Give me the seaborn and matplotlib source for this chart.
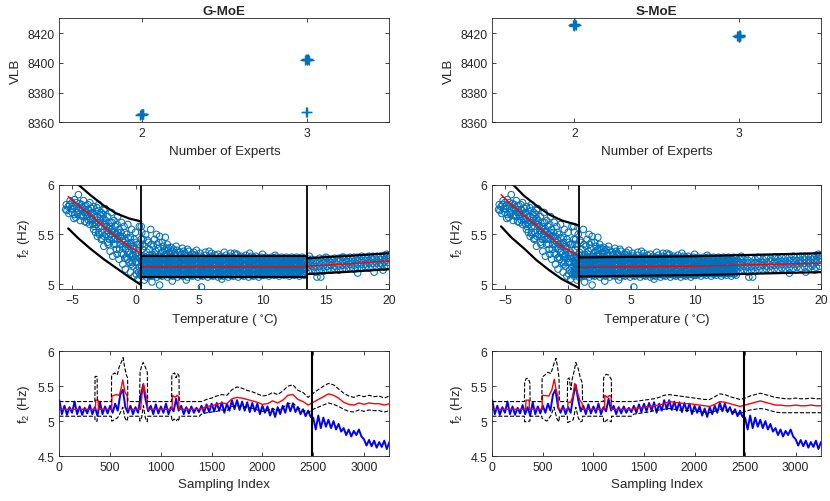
import numpy as np
import pandas as pd
import seaborn as sns
import matplotlib
matplotlib.use('Agg')
import matplotlib.pyplot as plt
from matplotlib.ticker import FuncFormatter

# ---------------- top row: VLB vs number of experts ----------------
g_experts = [1.99, 1.995, 2.0, 2.005, 2.01, 2.0, 2.0, 2.99, 2.995, 3.0, 3.005, 3.01, 3.0, 3.0, 2.997, 3.003]
g_vlb = [8365.2, 8365.6, 8365.4, 8365.8, 8365.3, 8365.0, 8365.9,
         8402.0, 8402.4, 8401.8, 8402.6, 8402.2, 8402.9, 8401.6, 8367.0, 8367.1]
s_experts = [1.99, 1.995, 2.0, 2.005, 2.01, 2.0, 2.0, 2.99, 2.995, 3.0, 3.005, 3.01, 3.0, 3.0, 3.01]
s_vlb = [8425.4, 8425.8, 8425.2, 8426.0, 8425.6, 8426.3, 8424.9,
         8418.0, 8418.4, 8417.6, 8418.8, 8418.2, 8417.3, 8418.6, 8418.1]

# ---------------- middle row: f2 vs temperature (same data both panels) ----------------
cold_t = [-5.50, -5.40, -5.30, -5.20, -5.10, -5.00, -5.00, -4.90, -4.80, -4.80,
          -4.70, -4.60, -4.50, -4.50, -4.40, -4.30, -4.20, -4.10, -4.00, -4.00,
          -3.90, -3.80, -3.70, -3.60, -3.60, -3.50, -3.40, -3.30, -3.30, -3.20,
          -3.10, -3.00, -3.00, -2.90, -2.90, -2.80, -2.70, -2.70, -2.60, -2.50,
          -2.50, -2.40, -2.40, -2.30, -2.20, -2.20, -2.10, -2.00, -2.00, -1.90,
          -1.90, -1.80, -1.80, -1.70, -1.70, -1.60, -1.50, -1.50, -1.40, -1.40,
          -1.30, -1.30, -1.20, -1.10, -1.10, -1.00, -1.00, -0.90, -0.90, -0.80,
          -0.80, -0.70, -0.70, -0.60, -0.60, -0.50, -0.50, -0.40, -0.40, -0.30,
          -0.30, -0.20, -0.20, -0.10, -0.10, 0.00, 0.00, 0.10, 0.10, 0.20,
          0.20, 0.30, 0.30, 0.30, -4.60, -4.30, -3.90, -3.70, -3.40, -3.10,
          -2.80, -2.60, -2.30, -2.10, -1.90, -1.60, -1.40, -1.20, -1.00, -0.80,
          -0.60, -0.40, -0.20, 0.00, 0.20, 0.35, 0.35, -2.90, -3.60, -2.50,
          -5.45, -5.25, -5.15, -4.95, -4.85, -4.65, -4.55, -4.35, -4.25, -4.15,
          -3.95, -3.85, -3.75, -3.55, -3.45, -3.35, -3.25, -3.15, -3.05, -2.95,
          -2.85, -2.75, -2.65, -2.55, -2.45, -2.35, -2.25, -2.15, -2.05, -1.95,
          -1.85, -1.75, -1.65, -1.55, -1.45, -1.35, -1.25, -1.15, -1.05, -0.95,
          -0.85, -0.75, -0.65, -0.55, -0.45, -0.35, -0.25, -0.15, -0.05, 0.05,
          0.15, 0.25, 0.05, -0.35, -0.85, -1.45, -2.05, -2.65, -3.25, -3.85]
cold_f = [5.75, 5.74, 5.78, 5.80, 5.76, 5.82, 5.72, 5.79, 5.85, 5.70,
          5.67, 5.78, 5.90, 5.74, 5.81, 5.69, 5.77, 5.84, 5.72, 5.63,
          5.79, 5.68, 5.75, 5.60, 5.82, 5.71, 5.66, 5.78, 5.55, 5.62,
          5.73, 5.68, 5.48, 5.80, 5.58, 5.64, 5.72, 5.45, 5.52, 5.66,
          5.38, 5.60, 5.76, 5.50, 5.42, 5.68, 5.56, 5.62, 5.33, 5.47,
          5.72, 5.53, 5.28, 5.40, 5.64, 5.58, 5.35, 5.50, 5.45, 5.68,
          5.25, 5.55, 5.40, 5.62, 5.31, 5.48, 5.20, 5.42, 5.58, 5.35,
          5.15, 5.50, 5.27, 5.60, 5.40, 5.22, 5.33, 5.47, 5.12, 5.55,
          5.28, 5.38, 5.18, 5.08, 5.45, 5.30, 5.52, 5.22, 5.14, 5.40,
          5.05, 5.26, 5.58, 5.17, 5.72, 5.76, 5.70, 5.64, 5.72, 5.60,
          5.70, 5.62, 5.58, 5.48, 5.55, 5.46, 5.52, 5.48, 5.38, 5.44,
          5.32, 5.38, 5.30, 5.22, 5.32, 5.40, 5.10, 5.52, 5.68, 5.74,
          5.80, 5.71, 5.84, 5.76, 5.66, 5.82, 5.70, 5.64, 5.80, 5.68,
          5.75, 5.62, 5.80, 5.65, 5.76, 5.60, 5.70, 5.52, 5.77, 5.62,
          5.50, 5.66, 5.58, 5.70, 5.48, 5.64, 5.54, 5.40, 5.58, 5.50,
          5.62, 5.45, 5.52, 5.40, 5.60, 5.48, 5.35, 5.52, 5.44, 5.30,
          5.52, 5.40, 5.25, 5.46, 5.30, 5.42, 5.22, 5.35, 5.26, 5.42,
          5.28, 5.12, 5.10, 5.20, 5.26, 5.30, 5.45, 5.46, 5.58, 5.72]

stray_t = [0.50, 0.60, 0.70, 0.80, 0.90, 1.00, 1.10, 1.20, 1.30, 1.40,
           1.50, 1.60, 1.70, 1.80, 1.90, 2.00, 2.10, 2.20, 2.30, 2.40,
           2.50, 2.60, 2.70, 2.80, 2.90, 3.00, 3.10, 3.30, 3.50, 3.70,
           3.90, 4.20, 4.50, 4.80, 5.10, 5.50, 6.00, 6.50, 7.00, 7.50,
           8.00, 9.00, 10.00, 1.90, 5.20, 1.30, 2.90, 0.70, 4.00, 6.80,
           14.30, 14.60, 17.50, 19.80, 13.70, 15.00, 16.40, 18.80, 19.50, 11.00,
           0.55, 0.95, 1.25, 1.55, 1.85, 2.15, 2.45, 2.75, 3.20, 3.60,
           4.10, 4.60, 2.35, 1.65, 0.45, 0.45, 0.55, 3.80, 5.80, 7.80]
stray_f = [5.52, 5.45, 5.38, 5.50, 5.32, 5.42, 5.35, 5.55, 5.30, 5.38,
           5.45, 5.33, 5.40, 5.36, 5.48, 5.31, 5.42, 5.38, 5.34, 5.30,
           5.40, 5.36, 5.32, 5.37, 5.33, 5.35, 5.31, 5.34, 5.32, 5.36,
           5.31, 5.33, 5.30, 5.34, 5.31, 5.32, 5.31, 5.30, 5.32, 5.31,
           5.30, 5.31, 5.30, 4.99, 4.97, 5.02, 5.03, 5.04, 5.04, 5.05,
           5.07, 5.07, 5.11, 5.30, 5.28, 5.27, 5.27, 5.12, 5.14, 5.29,
           5.35, 5.44, 5.40, 5.30, 5.42, 5.33, 5.36, 5.30, 5.38, 5.30,
           5.35, 5.32, 5.47, 5.50, 5.45, 5.58, 5.40, 5.33, 5.33, 5.31]

band_t = [0.48, 0.66, 0.87, 1.08, 1.27, 1.49, 1.68, 1.91, 2.10, 2.29,
          2.52, 2.71, 2.93, 3.12, 3.30, 3.53, 3.72, 3.89, 4.11, 4.32,
          4.50, 4.73, 4.91, 5.12, 5.29, 5.52, 5.70, 5.93, 6.11, 6.28,
          6.51, 6.72, 6.90, 7.13, 7.31, 7.49, 7.70, 7.92, 8.09, 8.31,
          8.52, 8.69, 8.91, 9.12, 9.30, 9.48, 9.71, 9.90, 10.12, 10.29,
          10.51, 10.73, 10.92, 11.10, 11.32, 11.50, 11.71, 11.89, 12.12, 12.30,
          12.52, 12.69, 12.91, 13.10, 13.30]
band_f = [
    [5.08, 5.12, 5.17, 5.22, 5.27], [5.10, 5.15, 5.19, 5.24, 5.28], [5.07, 5.11, 5.16, 5.21, 5.26],
    [5.09, 5.14, 5.20, 5.25, 5.29], [5.08, 5.13, 5.18, 5.23, 5.27], [5.10, 5.15, 5.19, 5.24, 5.28],
    [5.07, 5.12, 5.17, 5.22, 5.26], [5.09, 5.14, 5.18, 5.23, 5.28], [5.08, 5.13, 5.19, 5.24, 5.27],
    [5.10, 5.15, 5.20, 5.25, 5.29], [5.07, 5.11, 5.16, 5.21, 5.26], [5.09, 5.14, 5.18, 5.23, 5.28],
    [5.08, 5.13, 5.17, 5.22, 5.27], [5.10, 5.15, 5.20, 5.24, 5.29], [5.07, 5.12, 5.16, 5.21, 5.26],
    [5.09, 5.13, 5.18, 5.23, 5.28], [5.08, 5.14, 5.19, 5.25, 5.27], [5.10, 5.15, 5.20, 5.24, 5.29],
    [5.07, 5.12, 5.17, 5.22, 5.26], [5.09, 5.13, 5.18, 5.23, 5.28], [5.08, 5.14, 5.19, 5.24, 5.27],
    [5.10, 5.15, 5.20, 5.25, 5.29], [5.07, 5.11, 5.16, 5.21, 5.26], [5.09, 5.14, 5.18, 5.23, 5.28],
    [5.08, 5.13, 5.17, 5.22, 5.27], [5.10, 5.15, 5.20, 5.24, 5.29], [5.07, 5.12, 5.16, 5.21, 5.26],
    [5.09, 5.13, 5.18, 5.23, 5.28], [5.08, 5.14, 5.19, 5.25, 5.27], [5.10, 5.15, 5.20, 5.24, 5.29],
    [5.07, 5.12, 5.17, 5.22, 5.26], [5.09, 5.13, 5.18, 5.23, 5.28], [5.08, 5.14, 5.19, 5.24, 5.27],
    [5.10, 5.15, 5.20, 5.25, 5.29], [5.07, 5.11, 5.16, 5.21, 5.26], [5.09, 5.14, 5.18, 5.23, 5.28],
    [5.08, 5.13, 5.17, 5.22, 5.27], [5.10, 5.15, 5.20, 5.24, 5.29], [5.07, 5.12, 5.16, 5.21, 5.26],
    [5.09, 5.13, 5.18, 5.23, 5.28], [5.08, 5.14, 5.19, 5.25, 5.27], [5.10, 5.15, 5.20, 5.24, 5.29],
    [5.07, 5.12, 5.17, 5.22, 5.26], [5.09, 5.13, 5.18, 5.23, 5.28], [5.08, 5.14, 5.19, 5.24, 5.27],
    [5.10, 5.15, 5.20, 5.25, 5.28], [5.07, 5.11, 5.16, 5.21, 5.26], [5.09, 5.14, 5.18, 5.23, 5.27],
    [5.09, 5.13, 5.17, 5.22, 5.26], [5.10, 5.14, 5.18, 5.23, 5.27], [5.08, 5.12, 5.17, 5.21, 5.25],
    [5.10, 5.15, 5.19, 5.23, 5.27], [5.09, 5.13, 5.18, 5.22, 5.26], [5.11, 5.15, 5.19, 5.24, 5.27],
    [5.08, 5.13, 5.17, 5.21, 5.25], [5.10, 5.14, 5.18, 5.23, 5.27], [5.09, 5.13, 5.17, 5.22, 5.26],
    [5.11, 5.15, 5.19, 5.23, 5.27], [5.08, 5.12, 5.17, 5.21, 5.25], [5.10, 5.14, 5.18, 5.23, 5.27],
    [5.09, 5.13, 5.18, 5.22, 5.26], [5.11, 5.15, 5.19, 5.24, 5.27], [5.08, 5.13, 5.17, 5.21, 5.25],
    [5.10, 5.14, 5.18, 5.23, 5.27], [5.09, 5.13, 5.17, 5.22, 5.26]]

band2_t = [0.57, 0.77, 0.98, 1.18, 1.38, 1.59, 1.80, 2.00, 2.19, 2.41,
           2.62, 2.82, 3.02, 3.21, 3.42, 3.62, 3.80, 4.00, 4.21, 4.41,
           4.62, 4.82, 5.01, 5.20, 5.41, 5.61, 5.82, 6.02, 6.19, 6.40,
           6.62, 6.81, 7.01, 7.22, 7.40, 7.60, 7.81, 8.00, 8.20, 8.42,
           8.60, 8.80, 9.01, 9.21, 9.39, 9.60, 9.80, 10.01, 10.20, 10.40,
           10.62, 10.82, 11.01, 11.21, 11.41, 11.60, 11.80, 12.01, 12.21, 12.41,
           12.60, 12.80, 13.00, 13.20]
band2_f = [
    [5.10, 5.155, 5.205, 5.255], [5.095, 5.145, 5.195, 5.245], [5.105, 5.16, 5.21, 5.26], [5.09, 5.15, 5.20, 5.25],
    [5.10, 5.155, 5.205, 5.255], [5.095, 5.145, 5.195, 5.245], [5.105, 5.16, 5.21, 5.26], [5.09, 5.15, 5.20, 5.25],
    [5.10, 5.155, 5.205, 5.255], [5.095, 5.145, 5.195, 5.245], [5.105, 5.16, 5.21, 5.26], [5.09, 5.15, 5.20, 5.25],
    [5.10, 5.155, 5.205, 5.255], [5.095, 5.145, 5.195, 5.245], [5.105, 5.16, 5.21, 5.26], [5.09, 5.15, 5.20, 5.25],
    [5.10, 5.155, 5.205, 5.255], [5.095, 5.145, 5.195, 5.245], [5.105, 5.16, 5.21, 5.26], [5.09, 5.15, 5.20, 5.25],
    [5.10, 5.155, 5.205, 5.255], [5.095, 5.145, 5.195, 5.245], [5.105, 5.16, 5.21, 5.26], [5.09, 5.15, 5.20, 5.25],
    [5.10, 5.155, 5.205, 5.255], [5.095, 5.145, 5.195, 5.245], [5.105, 5.16, 5.21, 5.26], [5.09, 5.15, 5.20, 5.25],
    [5.10, 5.155, 5.205, 5.255], [5.095, 5.145, 5.195, 5.245], [5.105, 5.16, 5.21, 5.26], [5.09, 5.15, 5.20, 5.25],
    [5.10, 5.155, 5.205, 5.255], [5.095, 5.145, 5.195, 5.245], [5.105, 5.16, 5.21, 5.26], [5.09, 5.15, 5.20, 5.25],
    [5.10, 5.155, 5.205, 5.255], [5.095, 5.145, 5.195, 5.245], [5.105, 5.16, 5.21, 5.26], [5.09, 5.15, 5.20, 5.25],
    [5.10, 5.155, 5.205, 5.255], [5.095, 5.145, 5.195, 5.245], [5.105, 5.16, 5.21, 5.26], [5.09, 5.15, 5.20, 5.25],
    [5.10, 5.155, 5.205, 5.255], [5.095, 5.145, 5.195, 5.245], [5.105, 5.16, 5.21, 5.26], [5.09, 5.15, 5.20, 5.25],
    [5.11, 5.155, 5.195, 5.24], [5.105, 5.15, 5.19, 5.235], [5.11, 5.155, 5.195, 5.24], [5.105, 5.15, 5.19, 5.235],
    [5.11, 5.155, 5.195, 5.24], [5.105, 5.15, 5.19, 5.235], [5.11, 5.155, 5.195, 5.24], [5.105, 5.15, 5.19, 5.235],
    [5.11, 5.155, 5.195, 5.24], [5.105, 5.15, 5.19, 5.235], [5.11, 5.155, 5.195, 5.24], [5.105, 5.15, 5.19, 5.235],
    [5.11, 5.155, 5.195, 5.24], [5.105, 5.15, 5.19, 5.235], [5.11, 5.155, 5.195, 5.24], [5.105, 5.15, 5.19, 5.235]]

warm_t = [13.62, 13.90, 14.21, 14.50, 14.79, 15.10, 15.41, 15.69, 16.02, 16.30, 16.61,
          16.90, 17.22, 17.49, 17.81, 18.10, 18.39, 18.70, 19.01, 19.30, 19.62, 19.90]
warm_f = [
    [5.13, 5.17, 5.21, 5.25], [5.14, 5.18, 5.22, 5.25], [5.12, 5.17, 5.21, 5.24], [5.14, 5.18, 5.22, 5.26],
    [5.13, 5.17, 5.21, 5.25], [5.14, 5.18, 5.22, 5.26], [5.14, 5.19, 5.22, 5.25], [5.15, 5.18, 5.22, 5.26],
    [5.14, 5.18, 5.23, 5.26], [5.15, 5.19, 5.22, 5.27], [5.15, 5.19, 5.23, 5.26], [5.16, 5.20, 5.23, 5.27],
    [5.15, 5.19, 5.23, 5.27], [5.16, 5.20, 5.24, 5.27], [5.16, 5.20, 5.24, 5.28], [5.17, 5.20, 5.24, 5.27],
    [5.16, 5.21, 5.24, 5.28], [5.17, 5.21, 5.25, 5.28], [5.17, 5.21, 5.24, 5.28], [5.18, 5.21, 5.25, 5.28],
    [5.17, 5.22, 5.25, 5.29], [5.18, 5.22, 5.26, 5.29]]

# model curves per temperature segment: (temps, mean, upper, lower)
g_segments = [
    ([-5.3, -4.5, -3.5, -2.5, -1.5, -0.5, 0.45],
     [5.88, 5.79, 5.69, 5.58, 5.47, 5.38, 5.31],
     [6.10, 6.00, 5.89, 5.79, 5.71, 5.66, 5.63],
     [5.56, 5.46, 5.35, 5.25, 5.16, 5.07, 4.99]),
    ([0.45, 13.55], [5.17, 5.17], [5.28, 5.28], [5.07, 5.07]),
    ([13.55, 17.0, 20.0], [5.18, 5.205, 5.235], [5.26, 5.285, 5.31], [5.10, 5.125, 5.15]),
]
g_splits = [0.45, 13.55]
s_segments = [
    ([-5.3, -4.5, -3.5, -2.5, -1.5, -0.5, 0.86],
     [5.90, 5.80, 5.69, 5.59, 5.48, 5.38, 5.28],
     [6.12, 6.02, 5.89, 5.79, 5.70, 5.64, 5.59],
     [5.58, 5.47, 5.36, 5.24, 5.14, 5.05, 4.96]),
    ([0.86, 10.0, 20.0], [5.168, 5.18, 5.21], [5.268, 5.28, 5.31], [5.077, 5.09, 5.12]),
]
s_splits = [0.86]

# ---------------- bottom row: f2 vs sampling index ----------------
sample_step = 25
blue_f2 = [5.30, 5.10, 5.22, 5.09, 5.20, 5.12, 5.28, 5.10, 5.21, 5.09,
           5.19, 5.11, 5.23, 5.10, 5.20, 5.08, 5.27, 5.10, 5.21, 5.11,
           5.22, 5.12, 5.25, 5.15, 5.38, 5.45, 5.20, 5.12, 5.22, 5.10,
           5.20, 5.12, 5.35, 5.52, 5.30, 5.14, 5.22, 5.10, 5.24, 5.11,
           5.21, 5.12, 5.25, 5.10, 5.20, 5.14, 5.32, 5.15, 5.22, 5.10,
           5.20, 5.11, 5.21, 5.12, 5.19, 5.13, 5.22, 5.12, 5.24, 5.13,
           5.25, 5.14, 5.26, 5.15, 5.27, 5.12, 5.25, 5.15, 5.30, 5.17,
           5.30, 5.16, 5.28, 5.15, 5.27, 5.13, 5.26, 5.14, 5.25, 5.10,
           5.22, 5.12, 5.21, 5.08, 5.18, 5.06, 5.20, 5.10, 5.22, 5.12,
           5.26, 5.14, 5.25, 5.13, 5.20, 5.10, 5.17, 5.07, 5.15, 5.06,
           5.05, 4.88, 5.08, 4.90, 5.05, 4.92, 5.02, 4.90, 5.00, 4.88,
           4.96, 4.85, 4.90, 4.80, 4.88, 4.78, 4.86, 4.80, 4.88, 4.78,
           4.74, 4.65, 4.73, 4.64, 4.72, 4.62, 4.70, 4.63, 4.72, 4.60,
           4.70]
change_index = 2490
trend_idx = list(range(1400, 3251, 50))

g_red_x = [0, 355, 358, 382, 385, 515, 518, 560, 590, 605, 625, 645, 668, 672, 800,
           812, 828, 845, 865, 870, 1110, 1113, 1140, 1160, 1175, 1178, 1380]
g_red_y = [5.17, 5.17, 5.30, 5.30, 5.17, 5.17, 5.36, 5.38, 5.37, 5.45, 5.59, 5.42, 5.36, 5.17, 5.17,
           5.35, 5.54, 5.42, 5.30, 5.17, 5.17, 5.37, 5.34, 5.37, 5.35, 5.17, 5.17]
g_up_x = [0, 350, 352, 372, 374, 512, 515, 545, 570, 590, 612, 628, 642, 660, 672, 675,
          790, 795, 812, 825, 845, 866, 870, 1105, 1108, 1135, 1150, 1165, 1178, 1181, 1380]
g_up_y = [5.28, 5.28, 5.64, 5.64, 5.28, 5.28, 5.66, 5.69, 5.66, 5.78, 5.85, 5.91, 5.78, 5.66, 5.62, 5.28,
          5.28, 5.70, 5.80, 5.84, 5.78, 5.70, 5.28, 5.28, 5.67, 5.69, 5.62, 5.68, 5.65, 5.28, 5.28]
g_lo_x = [0, 350, 352, 372, 374, 512, 515, 545, 575, 600, 625, 645, 662, 672, 675,
          790, 793, 810, 828, 848, 866, 870, 1105, 1108, 1130, 1150, 1165, 1178, 1181, 1380]
g_lo_y = [5.07, 5.07, 5.00, 5.00, 5.07, 5.07, 5.00, 5.02, 5.05, 5.12, 5.20, 5.05, 5.00, 5.03, 5.07,
          5.07, 5.00, 5.05, 5.22, 5.04, 4.99, 5.07, 5.07, 5.00, 5.03, 5.00, 5.03, 5.00, 5.07, 5.07]
g_red_trend = [5.18, 5.21, 5.22, 5.24, 5.26, 5.25, 5.32, 5.34, 5.33, 5.31,
               5.29, 5.27, 5.24, 5.25, 5.29, 5.26, 5.30, 5.37, 5.38, 5.31,
               5.28, 5.23, 5.27, 5.31, 5.35, 5.39, 5.37, 5.33, 5.27, 5.24,
               5.23, 5.26, 5.24, 5.26, 5.25, 5.25, 5.23, 5.25]
g_up_trend = [5.28, 5.31, 5.33, 5.36, 5.38, 5.37, 5.45, 5.49, 5.47, 5.44,
              5.42, 5.39, 5.36, 5.37, 5.41, 5.38, 5.43, 5.50, 5.52, 5.44,
              5.41, 5.34, 5.40, 5.45, 5.50, 5.54, 5.52, 5.46, 5.40, 5.36,
              5.34, 5.37, 5.35, 5.37, 5.35, 5.36, 5.33, 5.36]
g_lo_trend = [5.10, 5.12, 5.13, 5.14, 5.16, 5.15, 5.21, 5.22, 5.21, 5.20,
              5.18, 5.16, 5.14, 5.15, 5.18, 5.15, 5.19, 5.25, 5.26, 5.19,
              5.16, 5.12, 5.17, 5.20, 5.23, 5.26, 5.24, 5.21, 5.17, 5.14,
              5.13, 5.16, 5.14, 5.16, 5.15, 5.15, 5.13, 5.15]

s_red_x = [0, 330, 333, 365, 368, 492, 495, 560, 590, 613, 635, 650, 653, 745, 748,
           775, 795, 816, 840, 865, 890, 893, 1110, 1113, 1140, 1160, 1175, 1178, 1380]
s_red_y = [5.17, 5.17, 5.30, 5.30, 5.17, 5.17, 5.37, 5.36, 5.45, 5.60, 5.42, 5.36, 5.17, 5.17, 5.27,
           5.27, 5.35, 5.54, 5.42, 5.30, 5.25, 5.17, 5.17, 5.37, 5.34, 5.37, 5.35, 5.17, 5.17]
s_up_x = [0, 318, 320, 335, 355, 372, 374, 490, 493, 520, 550, 580, 605, 630, 645, 660, 663,
          742, 745, 760, 777, 790, 810, 826, 850, 870, 890, 893, 1098, 1101, 1125, 1150, 1177, 1180, 1380]
s_up_y = [5.28, 5.28, 5.55, 5.61, 5.61, 5.55, 5.28, 5.28, 5.63, 5.66, 5.70, 5.68, 5.80, 5.90, 5.78, 5.62, 5.28,
          5.28, 5.60, 5.62, 5.45, 5.60, 5.72, 5.84, 5.75, 5.62, 5.55, 5.28, 5.28, 5.62, 5.67, 5.66, 5.60, 5.28, 5.28]
s_lo_x = [0, 318, 320, 372, 374, 490, 493, 540, 580, 610, 640, 660, 663, 742, 745,
          777, 800, 826, 850, 870, 890, 893, 1098, 1101, 1140, 1177, 1180, 1380]
s_lo_y = [5.07, 5.07, 4.99, 5.00, 5.07, 5.07, 5.04, 5.00, 5.08, 5.20, 5.03, 4.99, 5.07, 5.07, 4.98,
          5.00, 5.02, 5.20, 5.05, 4.99, 5.00, 5.07, 5.07, 4.98, 5.02, 4.99, 5.07, 5.07]
s_red_trend = [5.18, 5.19, 5.20, 5.21, 5.22, 5.23, 5.25, 5.28, 5.27, 5.26,
               5.25, 5.25, 5.24, 5.23, 5.22, 5.21, 5.24, 5.28, 5.27, 5.25,
               5.23, 5.21, 5.23, 5.25, 5.27, 5.29, 5.27, 5.25, 5.23, 5.23,
               5.22, 5.22, 5.23, 5.22, 5.22, 5.23, 5.22, 5.22]
s_up_trend = [5.28, 5.29, 5.30, 5.31, 5.32, 5.34, 5.37, 5.38, 5.37, 5.36,
              5.35, 5.34, 5.33, 5.32, 5.31, 5.31, 5.35, 5.39, 5.38, 5.35,
              5.33, 5.31, 5.33, 5.36, 5.38, 5.40, 5.38, 5.36, 5.34, 5.33,
              5.32, 5.32, 5.33, 5.32, 5.32, 5.33, 5.32, 5.32]
s_lo_trend = [5.10, 5.11, 5.12, 5.13, 5.15, 5.16, 5.17, 5.18, 5.17, 5.16,
              5.15, 5.15, 5.14, 5.14, 5.13, 5.12, 5.14, 5.17, 5.16, 5.14,
              5.12, 5.10, 5.14, 5.16, 5.17, 5.18, 5.17, 5.15, 5.13, 5.12,
              5.12, 5.12, 5.12, 5.12, 5.12, 5.12, 5.12, 5.12]

# ---------------- style ----------------
sns.set_theme(style='white')
plt.rcParams.update({
    'font.family': ['Liberation Sans', 'DejaVu Sans'],
    'mathtext.fontset': 'custom',
    'mathtext.rm': 'Liberation Sans',
    'mathtext.it': 'Liberation Sans:italic',
    'mathtext.default': 'regular',
    'axes.edgecolor': '#262626',
    'axes.linewidth': 0.6,
    'axes.labelcolor': '#262626',
    'xtick.color': '#262626',
    'ytick.color': '#262626',
    'xtick.direction': 'in',
    'ytick.direction': 'in',
    'xtick.bottom': True,
    'ytick.left': True,
    'xtick.top': True,
    'ytick.right': True,
    'xtick.major.size': 3,
    'ytick.major.size': 3,
    'xtick.major.width': 0.6,
    'ytick.major.width': 0.6,
    'xtick.labelsize': 8.7,
    'ytick.labelsize': 8.7,
    'axes.labelsize': 9.6,
})

MBLUE = '#0072BD'
fig = plt.figure(figsize=(8.3, 5.02), dpi=100)
cols = [(0.0715, 0.3976), (0.5931, 0.396)]
rows = [(0.7544, 0.2072), (0.4223, 0.2077), (0.0896, 0.2086)]
axes = [[fig.add_axes([c[0], r[0], c[1], r[1]]) for c in cols] for r in rows]

fmt = FuncFormatter(lambda v, p: '%g' % v)


def line(ax, x, y, color, lw, ls='-'):
    sns.lineplot(x=x, y=y, ax=ax, color=color, lw=lw, linestyle=ls,
                 estimator=None, sort=False, legend=False)


# top row
for ax, xs, ys, title in [(axes[0][0], g_experts, g_vlb, 'G-MoE'),
                          (axes[0][1], s_experts, s_vlb, 'S-MoE')]:
    sns.scatterplot(x=xs, y=ys, ax=ax, marker='+', color=MBLUE, s=55, linewidth=1.0)
    ax.set_xlim(1.5, 3.5)
    ax.set_ylim(8360, 8430)
    ax.set_xticks([2, 3])
    ax.set_yticks([8360, 8380, 8400, 8420])
    ax.set_xlabel('Number of Experts')
    ax.set_ylabel('VLB')
    ax.set_title(title, fontweight='bold', fontsize=9.6, pad=3)

# middle row
temp_all = list(cold_t) + list(stray_t)
f2_all = list(cold_f) + list(stray_f)
for cols_t, cols_f in [(band_t, band_f), (band2_t, band2_f), (warm_t, warm_f)]:
    for t, fs in zip(cols_t, cols_f):
        temp_all += [t] * len(fs)
        f2_all += fs
scatter_df = pd.DataFrame({'temp': temp_all, 'f2': f2_all})

for ax, segs, splits in [(axes[1][0], g_segments, g_splits),
                         (axes[1][1], s_segments, s_splits)]:
    sns.scatterplot(data=scatter_df, x='temp', y='f2', ax=ax, marker='o', s=22,
                    facecolor='none', edgecolor=MBLUE, linewidth=0.75)
    for t, mean, up, lo in segs:
        line(ax, t, up, 'black', 1.6)
        line(ax, t, lo, 'black', 1.6)
        line(ax, t, mean, 'red', 1.1)
    for sp in splits:
        ax.axvline(sp, color='black', lw=1.3)
    ax.set_xlim(-6, 20)
    ax.set_ylim(4.95, 6.0)
    ax.set_xticks([-5, 0, 5, 10, 15, 20])
    ax.set_yticks([5, 5.5, 6])
    ax.yaxis.set_major_formatter(fmt)
    ax.set_xlabel(r'Temperature ( $^{\circ}$C)')
    ax.set_ylabel(r'f$_2$ (Hz)')

# bottom row
blue_idx = [i * sample_step for i in range(len(blue_f2))]
for ax, rx, ry, ux, uy, lx, ly, rt, ut, lt in [
        (axes[2][0], g_red_x, g_red_y, g_up_x, g_up_y, g_lo_x, g_lo_y, g_red_trend, g_up_trend, g_lo_trend),
        (axes[2][1], s_red_x, s_red_y, s_up_x, s_up_y, s_lo_x, s_lo_y, s_red_trend, s_up_trend, s_lo_trend)]:
    line(ax, blue_idx, blue_f2, 'blue', 1.4)
    line(ax, rx + trend_idx, ry + rt, 'red', 1.0)
    line(ax, ux + trend_idx, uy + ut, 'black', 0.8, '--')
    line(ax, lx + trend_idx, ly + lt, 'black', 0.8, '--')
    ax.axvline(change_index, color='black', lw=1.5)
    ax.set_xlim(0, 3250)
    ax.set_ylim(4.5, 6.0)
    ax.set_xticks([0, 500, 1000, 1500, 2000, 2500, 3000])
    ax.set_yticks([4.5, 5, 5.5, 6])
    ax.yaxis.set_major_formatter(fmt)
    ax.set_xlabel('Sampling Index')
    ax.set_ylabel(r'f$_2$ (Hz)')

fig.savefig('out.png', dpi=100)
